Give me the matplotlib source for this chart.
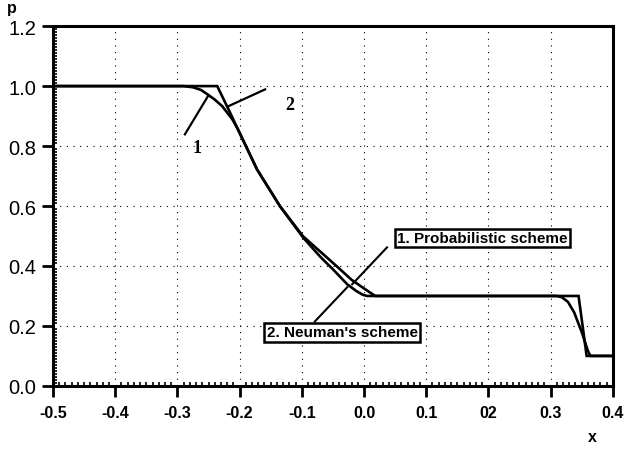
import matplotlib
matplotlib.use("Agg")
import matplotlib.pyplot as plt
from matplotlib.ticker import MultipleLocator, FixedLocator

# curve 1: probabilistic scheme (smooth), curve 2: Neuman's scheme (sharp)
x_prob = [-0.5, -0.29, -0.275, -0.262, -0.252, -0.24, -0.228, -0.212, -0.203,
          -0.172, -0.135, -0.098, -0.07, -0.05, -0.027, -0.012, -0.002, 0.005,
          0.31, 0.318, 0.328, 0.338, 0.35, 0.36, 0.364, 0.4]
p_prob = [1.0, 1.0, 0.996, 0.987, 0.973, 0.955, 0.933, 0.89, 0.857,
          0.722, 0.599, 0.495, 0.43, 0.389, 0.339, 0.316, 0.304, 0.3,
          0.3, 0.296, 0.28, 0.245, 0.18, 0.117, 0.1, 0.1]
x_neum = [-0.5, -0.236, -0.215, -0.203, -0.172, -0.135, -0.098, -0.066, -0.039,
          -0.02, 0.0, 0.018, 0.345, 0.358, 0.4]
p_neum = [1.0, 1.0, 0.91, 0.857, 0.722, 0.599, 0.499, 0.44, 0.39,
          0.354, 0.325, 0.3, 0.3, 0.1, 0.1]

x_ticks = [-0.5, -0.4, -0.3, -0.2, -0.1, 0.0, 0.1, 0.2, 0.3, 0.4]
x_labels = ["-0.5", "-0.4", "-0.3", "-0.2", "-0.1", "0.0", "0.1", "02", "0.3", "0.4"]
y_ticks = [0.0, 0.2, 0.4, 0.6, 0.8, 1.0, 1.2]
y_labels = ["0.0", "0.2", "0.4", "0.6", "0.8", "1.0", "1.2"]

sans = ["Liberation Sans", "DejaVu Sans"]

fig = plt.figure(figsize=(6.24, 4.52), dpi=100)
ax = fig.add_axes([0.085, 0.144, 0.897, 0.796])

ax.plot(x_prob, p_prob, color="black", lw=1.9, solid_joinstyle="round")
ax.plot(x_neum, p_neum, color="black", lw=1.9, solid_joinstyle="miter")

ax.set_xlim(-0.5, 0.4)
ax.set_ylim(0.0, 1.2)
ax.xaxis.set_major_locator(FixedLocator(x_ticks))
ax.yaxis.set_major_locator(FixedLocator(y_ticks))
ax.set_xticklabels(x_labels, family=sans, fontweight="bold", fontsize=11.5)
ax.set_yticklabels(y_labels, family=sans, fontsize=14.5)
ax.xaxis.set_minor_locator(MultipleLocator(0.01))
ax.yaxis.set_minor_locator(MultipleLocator(0.01))
ax.tick_params(which="major", direction="out", length=8, width=2, pad=6)
ax.tick_params(which="minor", direction="in", length=3, width=1.2)
ax.tick_params(axis="y", which="major", pad=4)
for s in ax.spines.values():
    s.set_linewidth(2.2)

# sparse dotted grid
for gx in x_ticks[1:-1]:
    ax.axvline(gx, color="black", lw=0.8, ls=(0, (1, 5)), zorder=0)
for gy in y_ticks[1:-1]:
    ax.axhline(gy, color="black", lw=0.8, ls=(0, (1, 5)), zorder=0)

# axis names
fig.text(12 / 624, 1 - 8 / 452, "p", family=sans, fontweight="bold", fontsize=11.5,
         ha="center", va="center")
fig.text(592 / 624, 1 - 438 / 452, "x", family=sans, fontweight="bold", fontsize=11.5,
         ha="center", va="center")

# curve numbers near the top
ax.plot([-0.288, -0.251], [0.839, 0.966], color="black", lw=1.6)
ax.text(-0.268, 0.796, "1", family="Liberation Serif", fontweight="bold",
        fontsize=13, ha="center", va="center")
ax.plot([-0.219, -0.159], [0.932, 0.989], color="black", lw=1.6)
ax.text(-0.119, 0.939, "2", family="Liberation Serif", fontweight="bold",
        fontsize=13, ha="center", va="center")

# boxed legends with leader lines
box = dict(boxstyle="square,pad=0.15", fc="white", ec="black", lw=1.8)
ax.plot([0.037, -0.019], [0.462, 0.339], color="black", lw=1.5)
ax.text(0.190, 0.494, "1. Probabilistic scheme", family=sans, fontweight="bold",
        fontsize=11, ha="center", va="center", bbox=box)
ax.plot([-0.079, -0.027], [0.215, 0.329], color="black", lw=1.5)
ax.text(-0.035, 0.179, "2. Neuman's scheme", family=sans, fontweight="bold",
        fontsize=11, ha="center", va="center", bbox=box)

fig.savefig("out.png", dpi=100)
